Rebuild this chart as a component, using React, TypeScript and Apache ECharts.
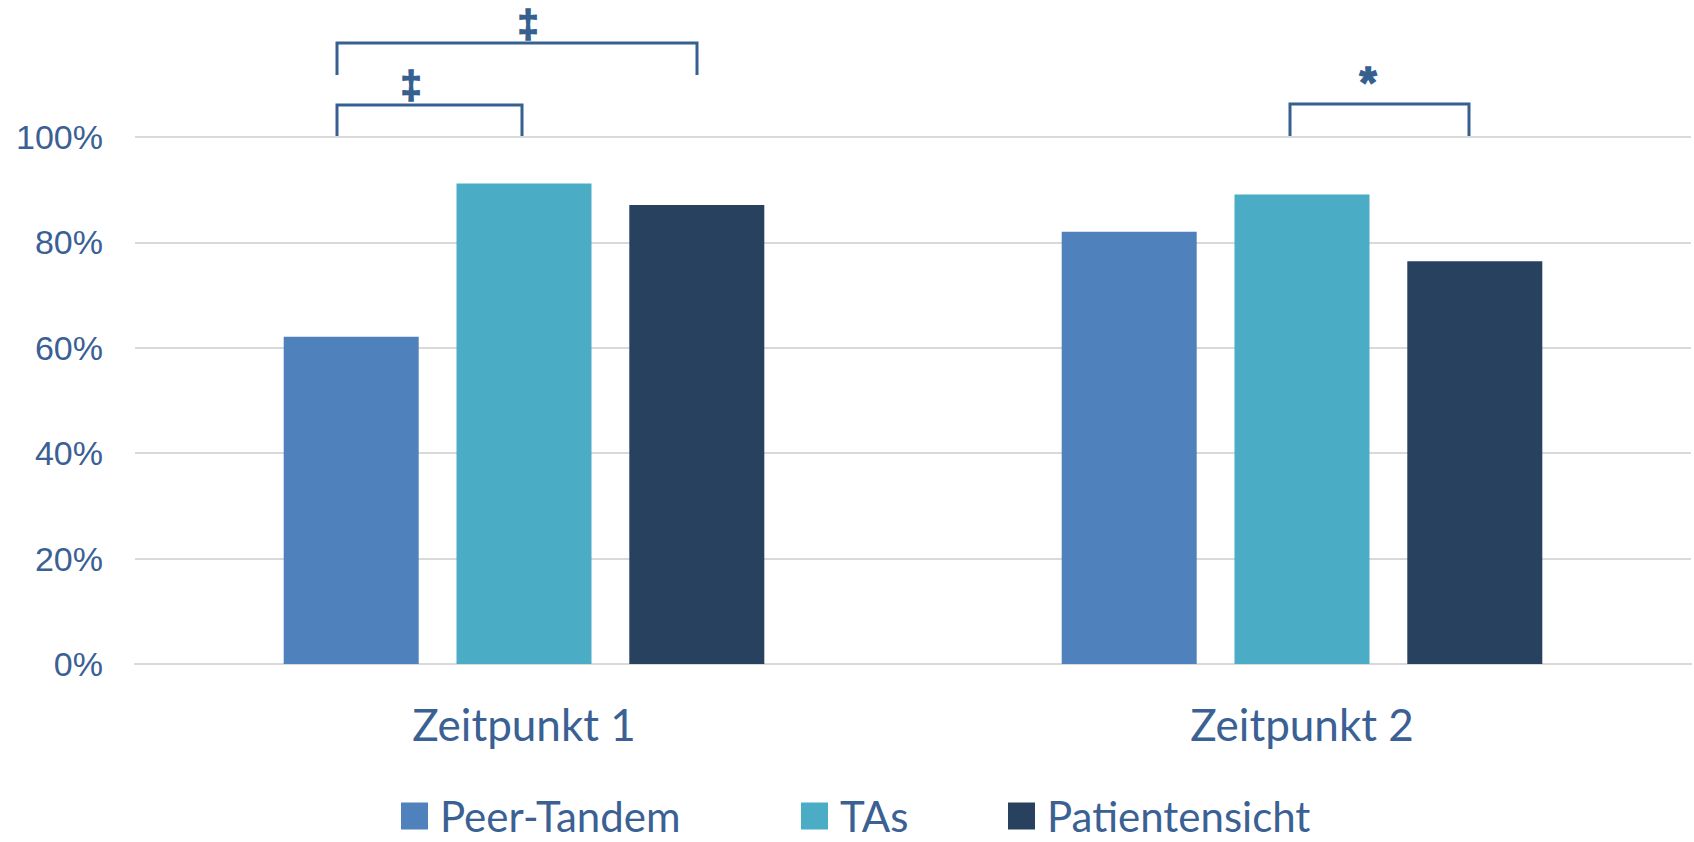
import React, { useEffect, useRef } from "react";
import * as echarts from "echarts";

const categories = ["Zeitpunkt 1", "Zeitpunkt 2"];
const seriesNames = ["Peer-Tandem", "TAs", "Patientensicht"];
const peerTandem = [62.1, 82.0];
const tas = [91.2, 89.1];
const patientensicht = [87.1, 76.4];
const colors = ["#4F81BD", "#4BACC6", "#27415F"];
const yTicks = { min: 0, max: 100, interval: 20 };

const TEXT = "#3A6094";
const BRACKET = "#36608F";

export default function App() {
  const ref = useRef<HTMLDivElement>(null);
  useEffect(() => {
    document.body.style.margin = "0";
    const chart = echarts.init(ref.current!, null, { renderer: "svg" });
    const values = [peerTandem, tas, patientensicht];
    const legendLefts = [401, 801, 1008];
    const symbolStyle = (text: string, size: number) => ({
      text,
      fill: BRACKET,
      stroke: BRACKET,
      lineWidth: 1.5,
      font: `bold ${size}px 'Liberation Sans'`,
      textAlign: "center",
      textVerticalAlign: "middle",
    });
    chart.setOption({
      animation: false,
      grid: { left: 135, right: 3, top: 137, bottom: 178 },
      xAxis: {
        type: "category",
        data: categories,
        axisTick: { show: false },
        axisLine: { lineStyle: { color: "#D9D9D9", width: 2 } },
        axisLabel: {
          color: TEXT,
          fontFamily: "Lato",
          fontSize: 44,
          margin: 38,
        },
      },
      yAxis: {
        type: "value",
        min: yTicks.min,
        max: yTicks.max,
        interval: yTicks.interval,
        axisLine: { show: false },
        axisTick: { show: false },
        splitLine: { lineStyle: { color: "#D9D9D9", width: 2 } },
        axisLabel: {
          color: TEXT,
          fontFamily: "Liberation Sans",
          fontSize: 34,
          margin: 32,
          formatter: "{value}%",
        },
      },
      legend: seriesNames.map((n, i) => ({
        data: [n],
        left: legendLefts[i],
        top: 795,
        padding: 0,
        itemWidth: 27,
        itemHeight: 27,
        icon: "rect",
        textStyle: {
          color: TEXT,
          fontFamily: "Lato",
          fontSize: 42,
          padding: [0, 0, 0, 7],
        },
      })),
      series: seriesNames.map((n, i) => ({
        name: n,
        type: "bar",
        data: values[i],
        barWidth: 135,
        barGap: "28%",
        itemStyle: { color: colors[i] },
      })),
      graphic: [
        {
          type: "polyline",
          shape: { points: [[337, 137], [337, 105], [522, 105], [522, 137]] },
          style: { stroke: BRACKET, lineWidth: 3, fill: null },
        },
        {
          type: "polyline",
          shape: { points: [[337, 75], [337, 43], [697, 43], [697, 75]] },
          style: { stroke: BRACKET, lineWidth: 3, fill: null },
        },
        {
          type: "polyline",
          shape: { points: [[1290, 137], [1290, 104], [1469, 104], [1469, 137]] },
          style: { stroke: BRACKET, lineWidth: 3, fill: null },
        },
        { type: "text", x: 411, y: 85, style: symbolStyle("‡", 38) },
        { type: "text", x: 528, y: 24, style: symbolStyle("‡", 38) },
        { type: "text", x: 1368, y: 82, style: symbolStyle("*", 44) },
      ],
    });
    return () => chart.dispose();
  }, []);
  return <div ref={ref} style={{ width: 1694, height: 842 }} />;
}
